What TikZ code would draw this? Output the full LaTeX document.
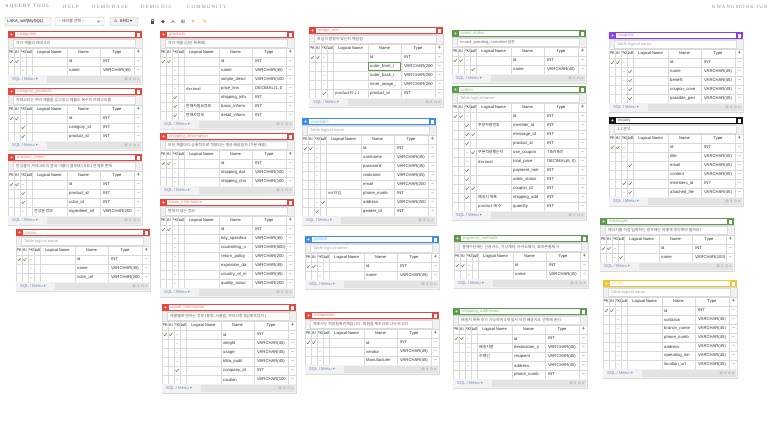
\documentclass[tikz,border=0pt]{standalone}
\usepackage{fontspec}
\setmainfont{Liberation Sans}
\newfontfamily\kofont{Noto Sans CJK KR}
\newfontfamily\symfont{DejaVu Sans}
\newfontfamily\menufont[LetterSpace=24]{Liberation Serif}
\usetikzlibrary{arrows.meta}
\pgfdeclarelayer{bg}
\pgfsetlayers{bg,main}

\definecolor{erdred}{HTML}{E8453C}
\definecolor{erdblue}{HTML}{3B8EEA}
\definecolor{erdgreen}{HTML}{5E9B4C}
\definecolor{erdpurple}{HTML}{8A3FE6}
\definecolor{erdblack}{HTML}{151515}
\definecolor{erdyellow}{HTML}{F4C430}
\definecolor{chkgreen}{HTML}{4E8A34}
\definecolor{gridgray}{HTML}{DADADA}
\definecolor{menugray}{HTML}{8C8C8C}
\definecolor{sqlblue}{HTML}{6A8BC0}
\definecolor{tooltan}{HTML}{E8A33A}

\tikzset{
  celltext/.style={inner sep=0pt, anchor=west, text=black!80, font=\fontsize{4.2}{5}\selectfont},
  kotext/.style={inner sep=0pt, anchor=west, text=black!80, font=\kofont\fontsize{3.9}{5}\selectfont},
  headtext/.style={inner sep=0pt, text=black!85, font=\fontsize{4}{5}\selectfont},
  titletext/.style={inner sep=0pt, anchor=west, font=\fontsize{4.2}{5}\selectfont},
  icontext/.style={inner sep=0pt, font=\symfont\fontsize{3.6}{4}\selectfont},
  gridline/.style={draw=gridgray, line width=0.3pt},
  chk/.style={draw=chkgreen, line width=0.55pt, line cap=round, line join=round},
  rowcell/.style={inner sep=0pt, minimum width=134pt, minimum height=9pt},
  rel/.style={draw=black!25, line width=0.35pt, -{Triangle[open, length=2.6pt, width=3pt]}},
  menuitem/.style={inner sep=0pt, anchor=west, text=menugray, font=\menufont\fontsize{4.8}{6}\selectfont},
  toolbox/.style={draw=black!30, fill=black!3, rounded corners=0.8pt, line width=0.35pt},
}

\newcommand{\erdtxt}[1]{\expandafter\detokenize\expandafter{#1}}
\newcommand{\erdcheck}[2]{\draw[chk] (#1-1.5,#2) -- (#1-0.4,#2+1.2) -- (#1+1.6,#2-1.5);}
\newcommand{\hint}[1]{{\color{black!38}#1}}

% #1 table name, #2 left, #3 top, #4 colour, #5 comment, #6 rows pk/ai/fk/nn/logical/name/type
\newcommand{\erdtable}[6]{%
  \foreach [count=\erdn] \erdr in {#6} {\xdef\erdrows{\erdn}}%
  \pgfmathsetmacro{\erdbot}{26+9*\erdrows}%
  \begin{scope}[shift={(#2,#3)}]
    \fill[white] (0,7) rectangle (134,\erdbot+9);
    % title bar
    \fill[#4] (0,0) rectangle (134,7);
    \fill[white] (7,1) rectangle (126.5,6);
    \node[titletext, text=#4!70] (#1) at (9,3.6) {\detokenize{#1}};
    \node[inner sep=0pt, text=white, font=\bfseries\fontsize{5}{5}\selectfont] at (3.5,3.7) {+};
    \fill[white] (129.4,1.9) rectangle (132,5.6);
    % comment
    \fill[black!6] (0,7) rectangle (134,17);
    \draw[gridline, fill=white] (5,8.4) rectangle (127,16);
    \node[kotext, text=black!62] at (8,12.3) {#5};
    % column header
    \node[headtext] at (3.2,21.5) {PK};
    \node[headtext] at (8.8,21.5) {AI};
    \node[headtext] at (14.8,21.5) {FK};
    \node[headtext] at (20.8,21.5) {Null};
    \node[headtext] at (41.5,21.5) {Logical Name};
    \node[headtext] at (75.5,21.5) {Name};
    \node[headtext] at (109,21.5) {Type};
    \node[headtext, text=black!60, font=\bfseries\fontsize{5.5}{5}\selectfont] at (130.5,21.3) {+};
    % rows
    \foreach [count=\i from 0] \cpk/\cai/\cfk/\cnn/\clog/\cname/\ctype in {#6} {
      \pgfmathsetmacro{\yc}{30.5+9*\i}
      \draw[gridline] (0,26+9*\i) -- (134,26+9*\i);
      \node[rowcell] (#1-\cname) at (67,\yc) {};
      \ifnum\cpk=1 \erdcheck{3.2}{\yc}\fi
      \ifnum\cai=1 \erdcheck{8.8}{\yc}\fi
      \ifnum\cfk=1 \erdcheck{15}{\yc}\else \fill[black!14] (14.4,\yc-0.35) rectangle (15.6,\yc+0.35);\fi
      \ifnum\cnn=1 \erdcheck{21}{\yc}\fi
      \node[kotext] at (26,\yc) {\clog};
      \node[celltext] at (61,\yc) {\erdtxt{\cname}};
      \node[celltext] at (95,\yc) {\ctype};
      \node[celltext, anchor=center] at (130.5,\yc) {−};
    }
    % grid and frame
    \foreach \gx in {6,12,18,24,59,92,126}
      \draw[gridline] (\gx,17) -- (\gx,\erdbot);
    \draw[gridline] (0,7) rectangle (134,\erdbot+9);
    \draw[gridline] (0,17) -- (134,17);
    % footer
    \fill[black!5] (0.2,\erdbot+0.2) rectangle (133.8,\erdbot+8.8);
    \fill[black!11] (39,\erdbot+1.2) rectangle (133,\erdbot+7.8);
    \node[celltext, text=sqlblue] at (4,\erdbot+4.5) {SQL / Menu {\symfont▾}};
    \node[icontext, text=black!40, anchor=east] at (132,\erdbot+4.5) {⊞ ⇕ ⊙ ∧};
  \end{scope}
}

\begin{document}
\begin{tikzpicture}[x=1pt, y=-1pt]
  \path[use as bounding box, fill=white] (0,0) rectangle (768,427);

  % top menu
  \node[menuitem, text=black!55] (menu-tool) at (5,6.5) {AQUERY TOOL};
  \node[menuitem] (menu-help) at (63,6.5) {HELP};
  \node[menuitem] (menu-base) at (92,6.5) {DEMO BASE};
  \node[menuitem] (menu-dic) at (141,6.5) {DEMO DIC};
  \node[menuitem] (menu-community) at (187,6.5) {COMMUNITY};
  \node[menuitem] (menu-user) at (712,7) {KWANGMOOK JUN};

  % toolbar
  \draw[toolbox] (5,17.5) rectangle (51,25.5);
  \node[celltext, text=black!85] (dbname) at (7,21.5) {LAKA\_self(MySQL)};
  \draw[toolbox, fill=white] (55,17.5) rectangle (104,25.5);
  \node[kotext, text=black!75] (tablepick) at (57,21.5) {-{}-{}- 테이블 선택 -{}-{}-};
  \draw[black!70, line width=0.45pt] (97,20.6) -- (98.5,22.2) -- (100,20.6);
  \draw[toolbox, fill=black!5] (110,17.5) rectangle (138,25.5);
  \node[icontext, text=black!70] (erdicon) at (116,21.5) {⁂};
  \node[celltext, text=black!85] (erdbtn) at (120,21.5) {ERD {\symfont▾}};
  \fill[black!70] (150.6,21) rectangle (154.4,24.4);
  \draw[black!70, line width=0.5pt, rounded corners=0.6pt] (151.4,21) -- (151.4,19.3) -- (153.6,19.3) -- (153.6,21);
  \fill[black!70] (163,21.6) circle (1.8);
  \draw[black!70, line width=0.5pt] (171.5,22.6) -- (173,20.6) -- (174.5,22.6);
  \node[icontext, text=black!70, font=\symfont\fontsize{5}{5}\selectfont] (gridicon) at (183,21.5) {⊞};
  \node[icontext, text=tooltan, font=\bfseries\fontsize{6}{6}\selectfont] (addicon) at (193,21.4) {+};
  \node[icontext, text=tooltan, font=\symfont\fontsize{5}{5}\selectfont] (editicon) at (205,21.5) {✎};

  % column 1
  \erdtable{categories}{8}{31}{erdred}{각각 제품의 카테고리}{
    1/1/0/0//id/INT, 0/0/0/0//name/VARCHAR(45)}
  \erdtable{category_products}{8}{88}{erdred}{카테고리는 여러 제품을 갖고있고 제품도 복수의 카테고리를}{
    1/1/0/0//id/INT, 0/0/1/0//category_id/INT, 0/0/1/0//product_id/INT}
  \erdtable{product_colors}{8}{154}{erdred}{한상품이 카테고리의 컬러 이름이 결부돼 다대다 관계로 존재}{
    1/1/0/0//id/INT, 0/0/1/0//product_id/INT, 0/0/1/0//color_id/INT,
    0/0/0/0/전성분 정보/ingredient_inf/VARCHAR(200}
  \erdtable{colors}{16}{229}{erdred}{\hint{Table logical name}}{
    1/1/0/0//id/INT, 0/0/0/0//name/VARCHAR(45), 0/0/0/0//color_url/VARCHAR(200}

  % column 2
  \erdtable{products}{160}{31}{erdred}{각각 제품 (상단 목록화)}{
    1/1/0/0//id/INT, 0/0/0/0//name/VARCHAR(45), 0/0/0/0//simple_descr/VARCHAR(100,
    {0/0/0/0/decimal/price_krw/DECIMAL(1, 0}, 0/0/1/0//shipping_info/INT,
    0/0/1/0/판매자필요정보/basic_inform/INT, 0/0/1/0/판매자정보/detail_inform/INT}
  \erdtable{shipping_information}{160}{133}{erdred}{모든 제품마다 공통적으로 적용되는 평균 배송일자 (기본 배송)}{
    1/1/0/0//id/INT, 0/0/0/0//shipping_dat/VARCHAR(100, 0/0/0/0//shipping_cha/VARCHAR(100}
  \erdtable{basic_information}{160}{199}{erdred}{변하지 않는 정보}{
    1/1/0/0//id/INT, 0/0/0/0//key_specifica/VARCHAR(45), 0/0/0/0//counseling_n/VARCHAR(500),
    0/0/0/0//return_policy/VARCHAR(200, 0/0/0/0//expiration_da/VARCHAR(45),
    0/0/0/0//country_of_m/VARCHAR(45), 0/0/0/0//quality_assur/VARCHAR(200}
  \erdtable{detail_information}{162}{304}{erdred}{제품별로 변하는 정보 (용량, 사용법, 주의사항 등)(제조업자 )}{
    1/1/0/0//id/INT, 0/0/0/0//weight/VARCHAR(45), 0/0/0/0//usage/VARCHAR(45),
    0/0/0/0//kfda_audit/VARCHAR(45), 0/0/1/0//company_id/INT, 0/0/0/0//caution/VARCHAR(100}

  % column 3
  \erdtable{image_urls}{309}{27}{erdred}{화살의 방향이 맞는지 헷갈림}{
    1/1/0/0//id/INT, 0/0/0/0//outer_front_i/VARCHAR(200, 0/0/0/0//outer_back_i/VARCHAR(200,
    0/0/0/0//inner_image_/VARCHAR(200, 0/0/1/0/product와 1:1/product_id/INT}
  \draw[erdgreen, line width=0.45pt] (368.3,62.6) rectangle (400.5,70.4);
  \erdtable{members}{302}{118}{erdblue}{\hint{Table logical name}}{
    1/1/0/0//id/INT, 0/0/0/0//username/VARCHAR(45), 0/0/0/0//password/VARCHAR(45),
    0/0/0/0//realname/VARCHAR(45), 0/0/0/0//email/VARCHAR(200, 0/0/0/0/int 타입/phone_numb/INT,
    0/0/0/1//address/VARCHAR(200, 0/0/1/0//gender_id/INT}
  \erdtable{gender}{305}{236}{erdblue}{\hint{Table logical name}}{
    1/1/0/0//id/INT, 0/0/0/0//name/VARCHAR(45)}
  \erdtable{companies}{305}{312}{erdred}{제조사는 회원등록관계입니다. 회원을 제조사로 나누어 있다.}{
    1/1/0/0//id/INT, 0/0/0/0//vendor/VARCHAR(45), 0/0/0/0//Manufacturer/VARCHAR(45)}

  % column 4
  \erdtable{order_status}{452}{30}{erdgreen}{in cart, pending, canceled 같은}{
    1/1/0/0//id/INT, 0/0/0/1//name/VARCHAR(45)}
  \erdtable{orders}{452}{86}{erdgreen}{\hint{Table logical name}}{
    1/1/0/0//id/INT, 0/0/1/0/주문자명번호/member_id/INT, 0/0/1/1//message_id/INT,
    0/0/1/0//product_id/INT, 0/0/0/1/쿠폰적용했는지/use_coupon/TINYINT,
    {0/0/0/0/decimal/total_price/DECIMAL(6, 0)}, 0/0/1/0//payment_met/INT,
    0/0/1/0//order_status/INT, 0/0/1/1//coupon_id/INT, 0/0/1/0/배송지 목록/shipping_add/INT,
    0/0/0/0/product 에 수/quantity/INT}
  \erdtable{payment_methods}{454}{235}{erdgreen}{결제수단에는 신용카드, 가상계좌, 카카오페이, 휴대폰결제 가}{
    1/1/0/0//id/INT, 0/0/0/0//name/VARCHAR(45)}
  \erdtable{shipping_addresses}{453}{308}{erdgreen}{배송지 목록 추가 가능하며 5개 앞서 이전 배송지도 선택해 관리}{
    1/1/0/0//id/INT, 0/0/0/0/배송지명/destination_n/VARCHAR(45), 0/0/0/0/수령인/recipient/VARCHAR(45),
    0/0/0/0//address/VARCHAR(45), 0/0/0/0//phone_numb/INT}

  % column 5
  \erdtable{coupons}{609}{32}{erdpurple}{\hint{Table logical name}}{
    1/1/0/0//id/INT, 0/0/0/1//name/VARCHAR(45), 0/0/0/1//benefit/VARCHAR(45),
    0/0/0/1//coupon_cove/VARCHAR(45), 0/0/0/1//possible_peri/VARCHAR(45)}
  \erdtable{inquiry}{609}{117}{erdblack}{1:1 문의}{
    1/1/0/0//id/INT, 0/0/0/0//title/VARCHAR(45), 0/0/0/1//email/VARCHAR(45),
    0/0/0/0//content/VARCHAR(45), 0/0/1/1//members_id/INT, 0/0/0/1//attached_file/VARCHAR(45)}
  \erdtable{messages}{600}{218}{erdgreen}{메시지를 직접 입력하는 경우에는 어떻게 생각해야 될까요?}{
    1/1/0/0//id/INT, 0/0/0/1//name/VARCHAR(100)}
  \erdtable{stores}{603}{280}{erdyellow}{\hint{Table logical name}}{
    1/1/0/0//id/INT, 0/0/0/0//sortation/VARCHAR(45), 0/0/0/0//branch_name/VARCHAR(45),
    0/0/0/0//phone_numb/VARCHAR(45), 0/0/0/0//address/VARCHAR(45),
    0/0/0/0//operating_tim/VARCHAR(45), 0/0/0/0//location_url/VARCHAR(45)}

  % relations
  \begin{pgfonlayer}{bg}
    \draw[rel] (category_products-category_id.west) to[out=180, in=180, looseness=0.25] (categories-id.west);
    \draw[rel] (category_products-product_id.east) to[out=0, in=180] (products-id.west);
    \draw[rel] (product_colors-product_id.east) to[out=0, in=180] (products-id.west);
    \draw[rel] (product_colors-color_id.west) to[out=180, in=180, looseness=0.25] (colors-id.west);
    \draw[rel] (products-shipping_info.west) to[out=180, in=180, looseness=0.25] (shipping_information-id.west);
    \draw[rel] (products-basic_inform.west) to[out=180, in=180, looseness=0.15] (basic_information-id.west);
    \draw[rel] (products-detail_inform.west) to[out=180, in=180, looseness=0.09] (detail_information-id.west);
    \draw[rel] (detail_information-company_id.east) to[out=0, in=180] (companies-id.west);
    \draw[rel] (image_urls-product_id.west) to[out=180, in=0] (products-id.east);
    \draw[rel] (members-gender_id.west) to[out=180, in=180, looseness=0.3] (gender-id.west);
    \draw[rel] (orders-member_id.west) to[out=180, in=0] (members-id.east);
    \draw[rel] (orders-product_id.west) to[out=180, in=0] (products-id.east);
    \draw[rel] (orders-order_status.west) to[out=180, in=180, looseness=0.15] (order_status-id.west);
    \draw[rel] (orders-payment_met.west) to[out=180, in=180, looseness=0.18] (payment_methods-id.west);
    \draw[rel] (orders-shipping_add.west) to[out=180, in=180, looseness=0.13] (shipping_addresses-id.west);
    \draw[rel] (orders-coupon_id.east) to[out=0, in=180] (coupons-id.west);
    \draw[rel] (orders-message_id.east) to[out=0, in=180] (messages-id.west);
    \draw[rel] (inquiry-members_id.west) to[out=180, in=0] (members-id.east);
  \end{pgfonlayer}
\end{tikzpicture}
\end{document}
